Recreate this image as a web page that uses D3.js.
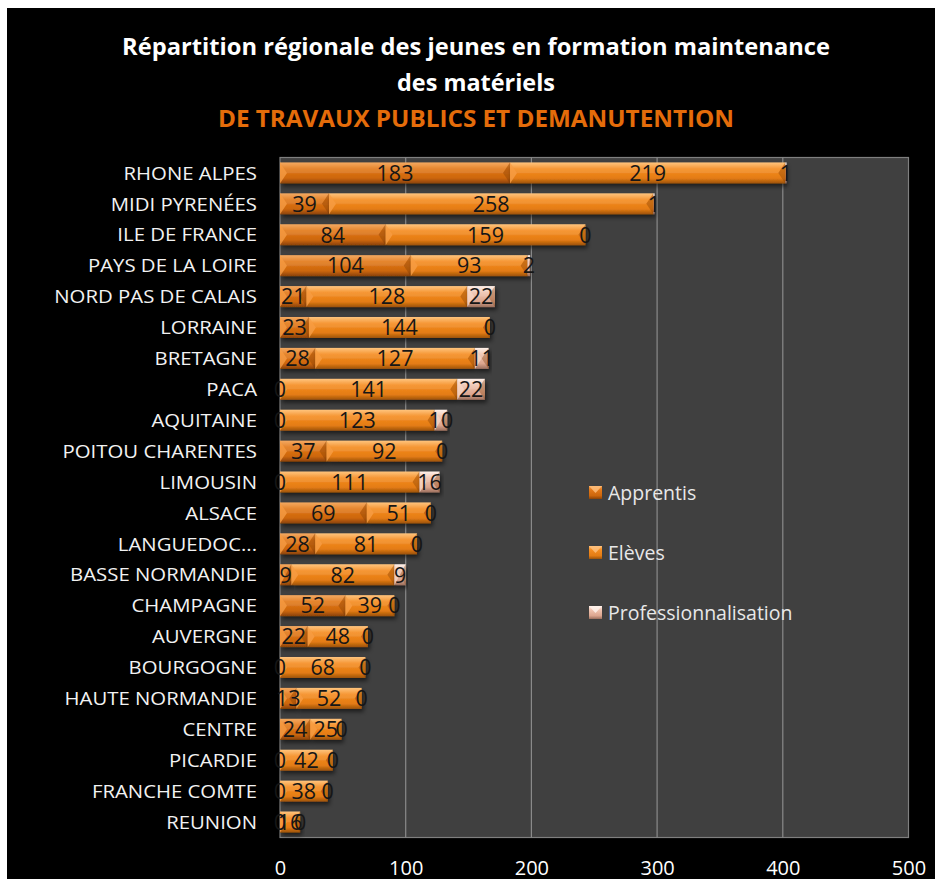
<!DOCTYPE html>
<html><head><meta charset="utf-8">
<script src="https://cdn.jsdelivr.net/npm/d3@7"></script>
<style>
html,body{margin:0;padding:0;background:#fff;}
svg{display:block;}
</style></head>
<body>
<svg id="chart" width="935" height="879"></svg>
<script>
const categories = ["RHONE ALPES","MIDI PYRENÉES","ILE DE FRANCE","PAYS DE LA LOIRE","NORD PAS DE CALAIS","LORRAINE","BRETAGNE","PACA","AQUITAINE","POITOU CHARENTES","LIMOUSIN","ALSACE","LANGUEDOC...","BASSE NORMANDIE","CHAMPAGNE","AUVERGNE","BOURGOGNE","HAUTE NORMANDIE","CENTRE","PICARDIE","FRANCHE COMTE","REUNION"];
const apprentis = [183,39,84,104,21,23,28,0,0,37,0,69,28,9,52,22,0,13,24,0,0,0];
const eleves = [219,258,159,93,128,144,127,141,123,92,111,51,81,82,39,48,68,52,25,42,38,16];
const professionnalisation = [1,1,0,2,22,0,11,22,10,0,16,0,0,9,0,0,0,0,0,0,0,0];
const seriesNames = ["Apprentis","Elèves","Professionnalisation"];
const xTicks = [0,100,200,300,400,500];

(function(){
const svg = d3.select("#chart");
svg.append("rect").attr("x",7).attr("y",8).attr("width",928).attr("height",871).attr("fill","#000");

const pLeft = 280, pRight = 908.5, pTop = 157.5, pBottom = 837.5;
const x = d3.scaleLinear().domain([0,500]).range([pLeft,pRight]);
const y = d3.scaleBand().domain(categories).range([pTop,pBottom]).paddingInner(0.32).paddingOuter(0.16);

const defs = svg.append("defs");
const grads = [
  ["#f3a050","#e27818","#cc660c","#8a4206"],
  ["#ffbe70","#f58c20","#e47c14","#9c520a"],
  ["#fff0e8","#f0c4b0","#dca58e","#9a6e5c"]
];
grads.forEach((g,i)=>{
  const lg = defs.append("linearGradient").attr("id","g"+i).attr("x1",0).attr("y1",0).attr("x2",0).attr("y2",1);
  lg.append("stop").attr("offset","0%").attr("stop-color",g[0]);
  lg.append("stop").attr("offset","30%").attr("stop-color",g[1]);
  lg.append("stop").attr("offset","75%").attr("stop-color",g[2]);
  lg.append("stop").attr("offset","100%").attr("stop-color",g[3]);
});
const sh = defs.append("filter").attr("id","shadow").attr("x","-10%").attr("y","-30%").attr("width","130%").attr("height","180%");
sh.append("feDropShadow").attr("dx",2).attr("dy",3).attr("stdDeviation",2).attr("flood-color","#000").attr("flood-opacity",0.55);

svg.append("rect").attr("x",pLeft).attr("y",pTop).attr("width",pRight-pLeft).attr("height",pBottom-pTop)
  .attr("fill","#404040").attr("stroke","#7f7f7f").attr("stroke-width",1.2);

svg.append("g").selectAll("line").data(xTicks.slice(1,-1)).join("line")
  .attr("x1",d=>x(d)).attr("x2",d=>x(d)).attr("y1",pTop).attr("y2",pBottom)
  .attr("stroke","#8a8a8a").attr("stroke-width",1.2);

const xAxis = d3.axisBottom(x).tickValues(xTicks).tickSize(0).tickPadding(0);
const xg = svg.append("g").attr("transform",`translate(0,${pBottom})`).call(xAxis);
xg.select(".domain").remove();
xg.selectAll("text").attr("fill","#ffffff").attr("font-family","Open Sans, sans-serif").attr("font-size",20).attr("y",0).attr("dy","37px");

const yAxis = d3.axisLeft(y).tickSize(0).tickPadding(23);
const yg = svg.append("g").attr("transform",`translate(${pLeft},0)`).call(yAxis);
yg.select(".domain").remove();
yg.selectAll("text").attr("fill","#f2f2f2").attr("font-family","Open Sans, sans-serif").attr("font-size",18.5).attr("dy","0.36em")
  .each(function(){ const w=this.getComputedTextLength(); d3.select(this).attr("textLength", w*1.1).attr("lengthAdjust","spacingAndGlyphs"); });

const data = categories.map((c,i)=>({cat:c, Apprentis:apprentis[i], "Elèves":eleves[i], Professionnalisation:professionnalisation[i]}));
const stack = d3.stack().keys(seriesNames)(data);

const bh = y.bandwidth();
const barsG = svg.append("g");
stack.forEach((s,si)=>{
  const g = barsG.append("g");
  s.forEach(d=>{
    const x0 = x(d[0]), x1 = x(d[1]);
    const w = x1-x0;
    if (w<=0) return;
    const yy = y(d.data.cat);
    g.append("rect").attr("x",x0).attr("y",yy).attr("width",w).attr("height",bh)
      .attr("fill",`url(#g${si})`).attr("filter","url(#shadow)");
    const b = Math.min(7,w/2);
    g.append("path").attr("d",`M${x0},${yy} L${x0+b},${yy+bh/2} L${x0},${yy+bh} Z`)
      .attr("fill", si===2?"#f8d8c8":"#f8a04a").attr("opacity",0.75);
    g.append("path").attr("d",`M${x0},${yy} L${x0+b},${yy+bh/2} L${x1-b},${yy+bh/2} L${x1},${yy} Z`)
      .attr("fill","#ffffff").attr("opacity",0.10);
    g.append("path").attr("d",`M${x1},${yy} L${x1-b},${yy+bh/2} L${x1},${yy+bh} Z`)
      .attr("fill","#7a3a04").attr("opacity",0.35);
  });
});

const labG = svg.append("g");
stack.forEach(s=>{
  s.forEach(d=>{
    const v = d[1]-d[0];
    labG.append("text").attr("x",x((d[0]+d[1])/2)).attr("y",y(d.data.cat)+bh/2)
      .attr("dy","0.36em").attr("text-anchor","middle")
      .attr("font-family","Open Sans, sans-serif").attr("font-size",21.5).attr("fill","#161616")
      .text(v);
  });
});

const legend = svg.append("g");
seriesNames.forEach((n,i)=>{
  const ly = 493 + i*60;
  legend.append("rect").attr("x",589).attr("y",ly-7).attr("width",13).attr("height",13).attr("fill",`url(#g${i})`);
  legend.append("path").attr("d",`M589,${ly-7} L602,${ly-7} L595.5,${ly} Z`).attr("fill",i===2?"#fff4ee":"#ffc080").attr("opacity",0.8);
  legend.append("text").attr("x",608).attr("y",ly).attr("dy","0.36em")
    .attr("font-family","Open Sans, sans-serif").attr("font-size",19.5).attr("fill","#e8e8e8").text(n);
});

const tg = svg.append("g").attr("font-family","Open Sans, sans-serif").attr("font-weight","bold").attr("text-anchor","middle");
tg.append("text").attr("x",476).attr("y",55).attr("font-size",23).attr("fill","#ffffff")
  .attr("textLength",708).attr("lengthAdjust","spacingAndGlyphs").text("Répartition régionale des jeunes en formation maintenance");
tg.append("text").attr("x",476).attr("y",91).attr("font-size",23).attr("fill","#ffffff")
  .attr("textLength",158).attr("lengthAdjust","spacingAndGlyphs").text("des matériels");
tg.append("text").attr("x",476).attr("y",127).attr("font-size",23).attr("fill","#e46c0a")
  .attr("textLength",516).attr("lengthAdjust","spacingAndGlyphs").text("DE TRAVAUX PUBLICS ET DEMANUTENTION");
})();
</script>
</body></html>
